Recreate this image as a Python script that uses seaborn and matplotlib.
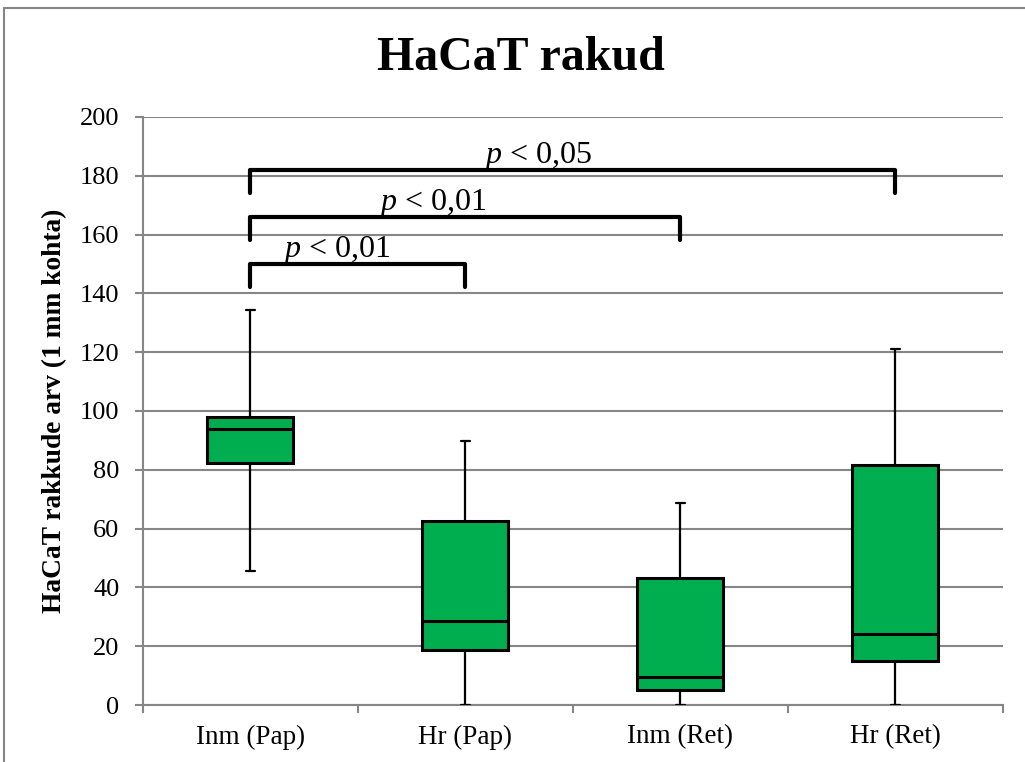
import numpy as np
import pandas as pd
import matplotlib.pyplot as plt
import matplotlib.patches as patches
import seaborn as sns

# Five-number summaries (min, Q1, median, Q3, max)
groups = ["Inm (Pap)", "Hr (Pap)", "Inm (Ret)", "Hr (Ret)"]
inm_pap = [45.7, 82.3, 93.9, 97.8, 134.3]
hr_pap = [0.0, 18.8, 28.7, 62.7, 89.8]
inm_ret = [0.0, 5.1, 9.6, 43.3, 68.6]
hr_ret = [0.0, 15.0, 24.0, 81.6, 121.0]

# Significance brackets
pair_from = [0, 0, 0]
pair_to = [1, 2, 3]
pair_level = [150, 166, 182]
pair_drop = [8, 8, 8]
pair_text = ["$p$ < 0,01", "$p$ < 0,01", "$p$ < 0,05"]
text_x = [0.40, 0.85, 1.34]

df = pd.DataFrame({"group": np.repeat(groups, 5),
                   "count": inm_pap + hr_pap + inm_ret + hr_ret})

# Style
sns.set_style("white")
plt.rcParams["font.family"] = ["Liberation Serif", "DejaVu Serif"]
plt.rcParams["mathtext.fontset"] = "custom"
plt.rcParams["mathtext.rm"] = "Liberation Serif"
plt.rcParams["mathtext.it"] = "Liberation Serif:italic"
plt.rcParams["text.color"] = "black"
plt.rcParams["axes.labelcolor"] = "black"
plt.rcParams["xtick.labelcolor"] = "black"
plt.rcParams["ytick.labelcolor"] = "black"
grey = "#868686"

fig = plt.figure(figsize=(10.25, 7.62), dpi=100)
ax = fig.add_axes([0.1395, 0.0748, 0.839, 0.7717])

# quartiles of 5 values = the summary itself, whiskers to min/max
sns.boxplot(data=df, x="group", y="count", order=groups, whis=(0, 100),
            width=0.4, color="#00AD4F", saturation=1, linecolor="black",
            linewidth=2.2, capwidths=0.045, ax=ax,
            whiskerprops=dict(linewidth=1.6), capprops=dict(linewidth=1.6))
for art in ax.patches + ax.lines:
    art.set_zorder(3)

# Brackets
for a, b, lvl, drop, lab, tx in zip(pair_from, pair_to, pair_level,
                                    pair_drop, pair_text, text_x):
    ax.plot([a, a, b, b], [lvl - drop, lvl, lvl, lvl - drop], color="black",
            lw=3, solid_capstyle="round", solid_joinstyle="round", zorder=4)
    ax.text(tx, lvl + 2.3, lab, ha="center", va="baseline", fontsize=23)

# Axes decorations
ax.set_ylim(0, 200)
ax.set_xlim(-0.5, 3.5)
ax.set_yticks(range(0, 201, 20))
ax.yaxis.grid(True, color=grey, linewidth=1.5)
ax.set_axisbelow(True)
ax.set_xticks(np.arange(-0.5, 4, 1), minor=True)
ax.tick_params(axis="y", left=True, length=6, width=1.5, color=grey,
               pad=11, labelsize=19)
ax.tick_params(axis="x", which="major", length=0, pad=14, labelsize=19.5)
ax.tick_params(axis="x", which="minor", bottom=True, length=6, width=1.5,
               color=grey)
for s in ["top", "right"]:
    ax.spines[s].set_visible(False)
for s in ["left", "bottom"]:
    ax.spines[s].set_color(grey)
    ax.spines[s].set_linewidth(1.5)
ax.set_xlabel("")
ax.set_ylabel("HaCaT rakkude arv (1 mm kohta)", fontsize=19.7,
              fontweight="bold", labelpad=9)

fig.text(0.508, 0.924, "HaCaT rakud", ha="center", va="center",
         fontsize=34.5, fontweight="bold")
fig.patches.append(patches.Rectangle((0.004, -0.05), 1.2, 1.0395,
                                     transform=fig.transFigure, fill=False,
                                     edgecolor=grey, lw=1.5))

fig.savefig("out.png", dpi=100)
